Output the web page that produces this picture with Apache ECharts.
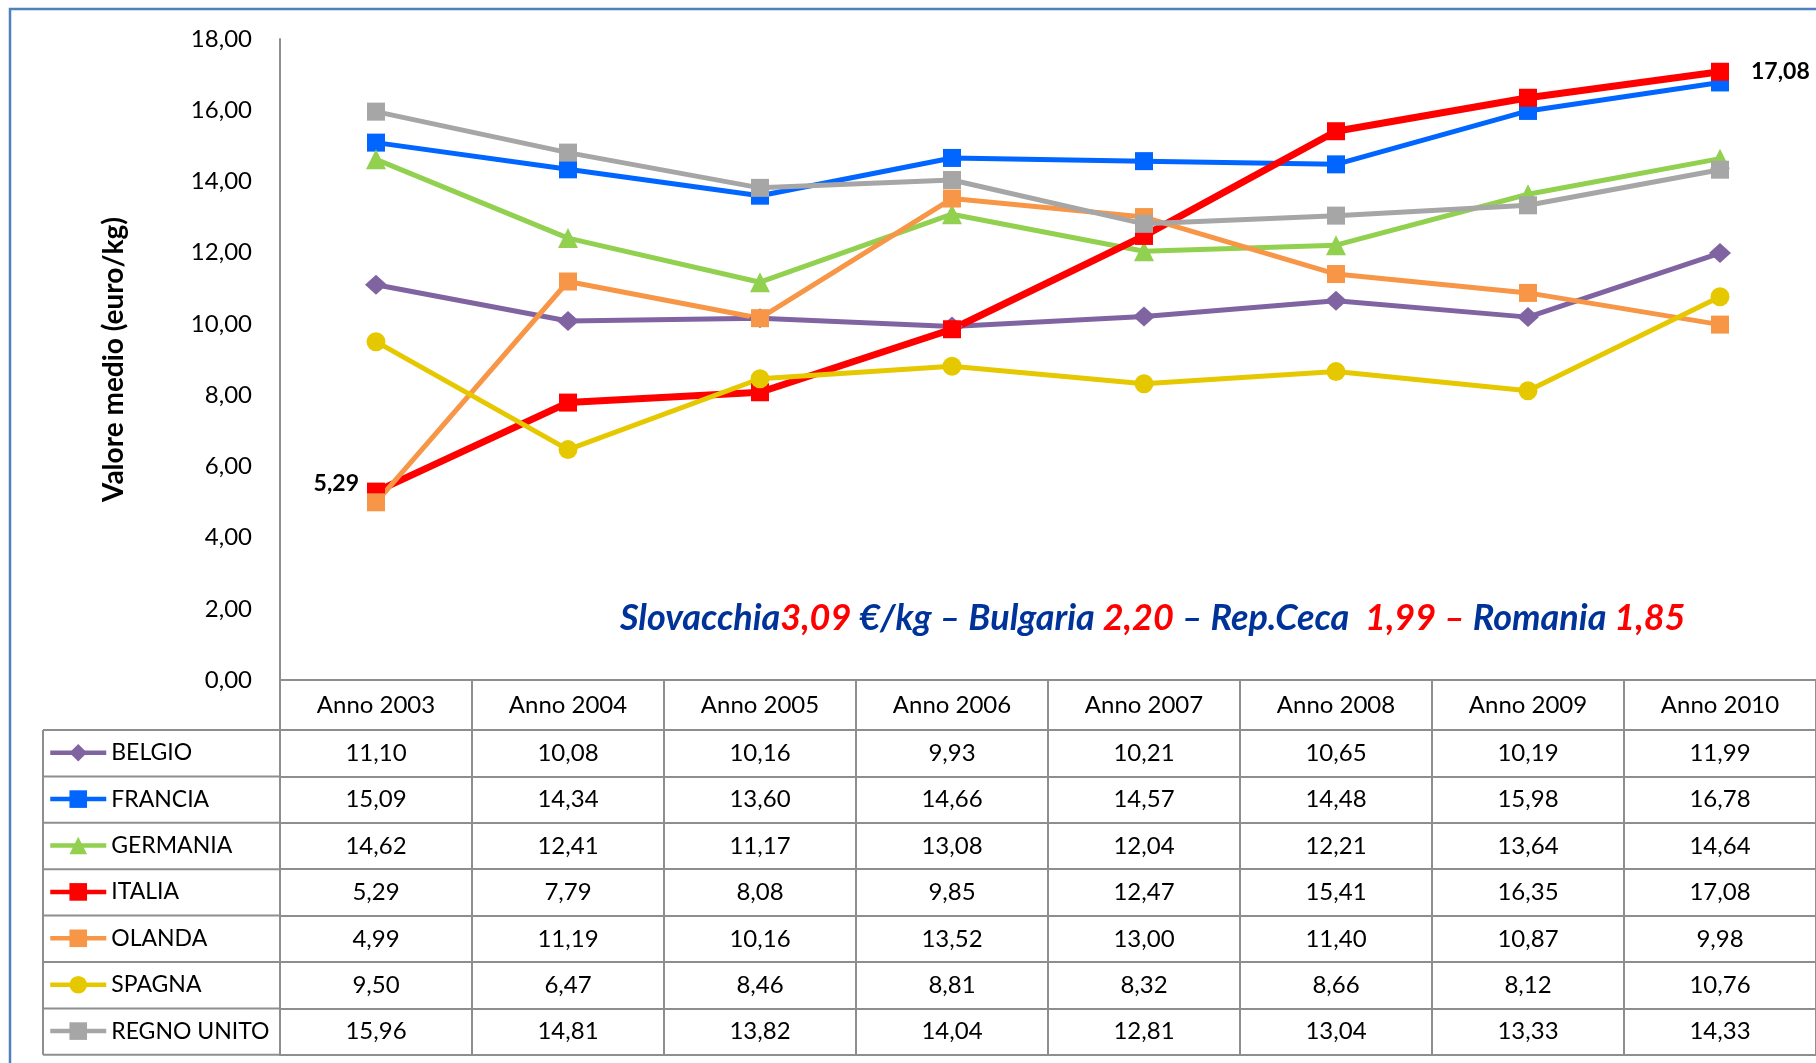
<!DOCTYPE html>
<html>
<head>
<meta charset="utf-8">
<script src="https://cdn.jsdelivr.net/npm/echarts@6/dist/echarts.min.js"></script>
<style>
  html, body { margin: 0; padding: 0; background: #fff; }
  #chart { width: 1816px; height: 1063px; }
</style>
</head>
<body>
<div id="chart"></div>
<script>
// dati
const anni = ['Anno 2003', 'Anno 2004', 'Anno 2005', 'Anno 2006', 'Anno 2007', 'Anno 2008', 'Anno 2009', 'Anno 2010']
const paesi = ['BELGIO', 'FRANCIA', 'GERMANIA', 'ITALIA', 'OLANDA', 'SPAGNA', 'REGNO UNITO']
const belgio = [11.10, 10.08, 10.16, 9.93, 10.21, 10.65, 10.19, 11.99]
const francia = [15.09, 14.34, 13.60, 14.66, 14.57, 14.48, 15.98, 16.78]
const germania = [14.62, 12.41, 11.17, 13.08, 12.04, 12.21, 13.64, 14.64]
const italia = [5.29, 7.79, 8.08, 9.85, 12.47, 15.41, 16.35, 17.08]
const olanda = [4.99, 11.19, 10.16, 13.52, 13.00, 11.40, 10.87, 9.98]
const spagna = [9.50, 6.47, 8.46, 8.81, 8.32, 8.66, 8.12, 10.76]
const regnoUnito = [15.96, 14.81, 13.82, 14.04, 12.81, 13.04, 13.33, 14.33]
const yMin = 0
const yMax = 18
const yStep = 2
const altriPaesi = ['Slovacchia', 'Bulgaria', 'Rep.Ceca', 'Romania']
const altriValori = [3.09, 2.20, 1.99, 1.85]

const valori = [belgio, francia, germania, italia, olanda, spagna, regnoUnito]
const colori = ['#8064a2', '#0066ff', '#92d050', '#ff0000', '#f79646', '#e6c800', '#a6a6a6']
const simboli = ['diamond', 'rect', 'triangle', 'rect', 'rect', 'circle', 'rect']
const dimSimboli = [[22, 20], 18, 20, 18, 18, 19, 18]

const FONT = 'Lato'
const GRID_COLOR = '#8e8e8e'
const PLOT_TOP = 39
const TABLE_TOP = 680
const HEADER_H = 50
const ROW_H = 46.4
const AXIS_X = 280
const LEG_X = 43
const LEG_ICON_H = 22

const fmt = v => v.toFixed(2).replace('.', ',')

// asse x principale (intestazione) + una riga di tabella per ogni serie
const xAxes = [{
  type: 'category',
  data: anni,
  position: 'bottom',
  boundaryGap: true,
  axisLine: { lineStyle: { color: GRID_COLOR, width: 2 } },
  axisTick: { show: true, interval: 0, length: HEADER_H + ROW_H * paesi.length, lineStyle: { color: GRID_COLOR, width: 2 } },
  axisLabel: { interval: 0, margin: HEADER_H / 2, verticalAlign: 'middle', fontSize: 24, color: '#000', fontFamily: FONT }
}]
valori.forEach((serie, i) => {
  xAxes.push({
    type: 'category',
    data: serie.map(fmt),
    position: 'bottom',
    offset: HEADER_H + i * ROW_H,
    axisLine: { lineStyle: { color: GRID_COLOR, width: 2 } },
    axisTick: { show: false },
    axisLabel: { interval: 0, margin: ROW_H / 2, verticalAlign: 'middle', fontSize: 24, color: '#000', fontFamily: FONT }
  })
})
xAxes.push({
  type: 'category',
  data: anni,
  position: 'bottom',
  offset: HEADER_H + paesi.length * ROW_H,
  axisLine: { lineStyle: { color: GRID_COLOR, width: 2 } },
  axisTick: { show: false },
  axisLabel: { show: false }
})

// una legenda per riga, così ogni voce sta nella sua cella
const legends = paesi.map((p, i) => ({
  data: [p],
  orient: 'vertical',
  left: LEG_X,
  top: TABLE_TOP + HEADER_H + i * ROW_H + (ROW_H - LEG_ICON_H) / 2 - 6,
  itemWidth: 56,
  itemHeight: LEG_ICON_H,
  selectedMode: false,
  lineStyle: { width: 4.5 },
  textStyle: { fontFamily: FONT, fontSize: 23, color: '#000' }
}))

// bordi della colonna legenda
const legendLines = []
for (let k = 0; k <= paesi.length; k++) {
  const y = TABLE_TOP + HEADER_H + k * ROW_H
  legendLines.push({ type: 'line', shape: { x1: LEG_X, y1: y, x2: AXIS_X, y2: y }, style: { stroke: GRID_COLOR, lineWidth: 2 } })
}
legendLines.push({
  type: 'line',
  shape: { x1: LEG_X, y1: TABLE_TOP + HEADER_H, x2: LEG_X, y2: TABLE_TOP + HEADER_H + paesi.length * ROW_H },
  style: { stroke: GRID_COLOR, lineWidth: 2 }
})

const nota = `{b|${altriPaesi[0]}}{r|${fmt(altriValori[0])}}{b| €/kg – ${altriPaesi[1]} }{r|${fmt(altriValori[1])}}` +
  `{b| – ${altriPaesi[2]}  }{r|${fmt(altriValori[2])} –}{b| ${altriPaesi[3]} }{r|${fmt(altriValori[3])}}`

const series = valori.map((serie, i) => {
  const isItalia = paesi[i] === 'ITALIA'
  return {
    name: paesi[i],
    type: 'line',
    xAxisIndex: 0,
    symbol: simboli[i],
    symbolSize: dimSimboli[i],
    showAllSymbol: true,
    data: serie.map((v, j) => {
      if (isItalia && (j === 0 || j === serie.length - 1)) {
        return {
          value: v,
          label: {
            show: true,
            position: j === 0 ? 'left' : 'right',
            distance: j === 0 ? 8 : 22,
            offset: j === 0 ? [0, -8] : [0, 0],
            formatter: p => fmt(p.value),
            fontFamily: FONT,
            fontWeight: 'bold',
            fontSize: 23,
            color: '#000'
          }
        }
      }
      return v
    }),
    itemStyle: { color: colori[i] },
    lineStyle: { color: colori[i], width: isItalia ? 7 : 5 },
    emphasis: { disabled: true },
    animation: false
  }
})

const chart = echarts.init(document.getElementById('chart'))
chart.setOption({
  backgroundColor: '#fff',
  animation: false,
  grid: { left: AXIS_X, right: -8, top: PLOT_TOP, bottom: 1063 - TABLE_TOP },
  legend: legends,
  xAxis: xAxes,
  yAxis: {
    type: 'value',
    min: yMin,
    max: yMax,
    interval: yStep,
    name: 'Valore medio (euro/kg)',
    nameLocation: 'middle',
    nameGap: 152,
    nameTextStyle: { fontFamily: FONT, fontWeight: 'bold', fontSize: 28, color: '#000' },
    axisLine: { show: true, lineStyle: { color: GRID_COLOR, width: 2 } },
    axisTick: { show: false },
    splitLine: { show: false },
    axisLabel: { margin: 28, fontSize: 24, color: '#000', fontFamily: FONT, formatter: v => fmt(v) }
  },
  graphic: [
    {
      type: 'rect',
      shape: { x: 10, y: 9, width: 1900, height: 1100 },
      style: { fill: 'none', stroke: '#4f81bd', lineWidth: 2.5 },
      silent: true
    },
    ...legendLines,
    {
      type: 'text',
      left: 620,
      top: 600,
      style: {
        text: nota,
        rich: {
          b: { fontFamily: FONT, fontSize: 36, fontWeight: 'bold', fontStyle: 'italic', fill: '#003399' },
          r: { fontFamily: FONT, fontSize: 36, fontWeight: 'bold', fontStyle: 'italic', fill: '#ff0000' }
        }
      }
    }
  ],
  series: series
})
</script>
</body>
</html>
